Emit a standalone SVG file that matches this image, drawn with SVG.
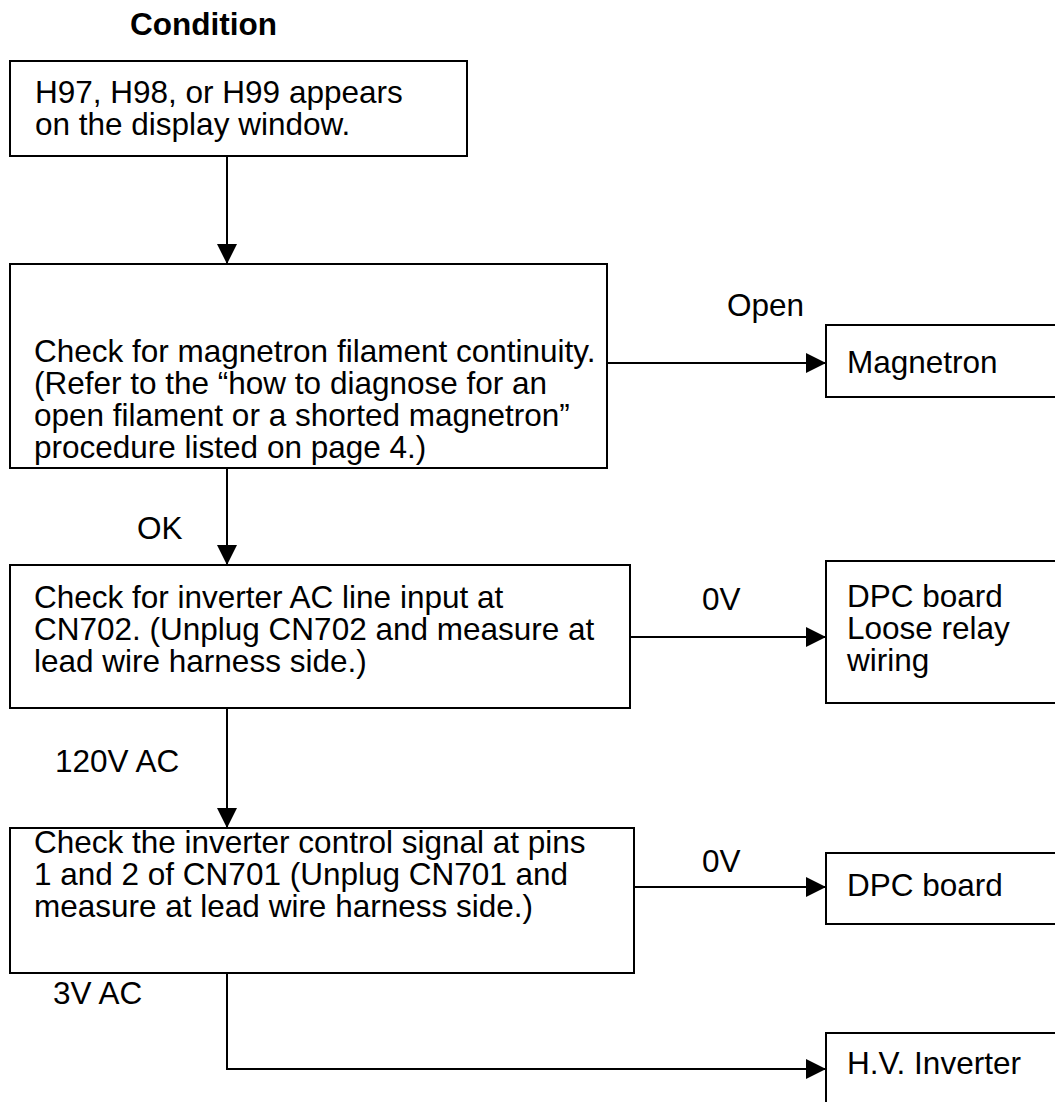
<svg xmlns="http://www.w3.org/2000/svg" width="1055" height="1102" viewBox="0 0 1055 1102">
<style>
text{font-family:"Liberation Sans",Arial,sans-serif;font-size:31.5px;fill:#000}
.t{font-weight:bold}
.box{fill:#fff;stroke:#000;stroke-width:2}
.ln{fill:none;stroke:#000;stroke-width:2}
</style>
<defs>
<marker id="ah" markerUnits="userSpaceOnUse" markerWidth="20" markerHeight="20" refX="20" refY="10" orient="auto">
<path d="M0,0 L20,10 L0,20 z" fill="#000"/>
</marker>
</defs>
<rect width="1055" height="1102" fill="#fff"/>
<text class="t" x="130" y="35">Condition</text>
<g id="connectors">
<line class="ln" x1="227" y1="156" x2="227" y2="264" marker-end="url(#ah)"/>
<line class="ln" x1="607" y1="363" x2="826" y2="363" marker-end="url(#ah)"/>
<line class="ln" x1="227" y1="468" x2="227" y2="565" marker-end="url(#ah)"/>
<line class="ln" x1="630" y1="637" x2="826" y2="637" marker-end="url(#ah)"/>
<line class="ln" x1="227" y1="708" x2="227" y2="828" marker-end="url(#ah)"/>
<line class="ln" x1="634" y1="887" x2="826" y2="887" marker-end="url(#ah)"/>
<polyline class="ln" points="227,973 227,1069 826,1069" marker-end="url(#ah)"/>
<text x="727" y="316">Open</text>
<text x="137" y="539">OK</text>
<text x="702" y="610">0V</text>
<text x="55" y="772">120V AC</text>
<text x="702" y="872">0V</text>
<text x="53" y="1004">3V AC</text>
</g>
<g id="n1">
<rect class="box" x="10" y="61" width="457" height="95"/>
<text x="35" y="103">H97, H98, or H99 appears</text>
<text x="35" y="135">on the display window.</text>
</g>
<g id="n2">
<rect class="box" x="10" y="264" width="597" height="204"/>
<text x="34" y="362">Check for magnetron filament continuity.</text>
<text x="34" y="394">(Refer to the “how to diagnose for an</text>
<text x="34" y="426">open filament or a shorted magnetron”</text>
<text x="34" y="458">procedure listed on page 4.)</text>
</g>
<g id="n3">
<rect class="box" x="826" y="325" width="240" height="72"/>
<text x="847" y="373">Magnetron</text>
</g>
<g id="n4">
<rect class="box" x="10" y="565" width="620" height="143"/>
<text x="34" y="608">Check for inverter AC line input at</text>
<text x="34" y="640">CN702. (Unplug CN702 and measure at</text>
<text x="34" y="672">lead wire harness side.)</text>
</g>
<g id="n5">
<rect class="box" x="826" y="561" width="240" height="142"/>
<text x="847" y="607">DPC board</text>
<text x="847" y="639">Loose relay</text>
<text x="847" y="671">wiring</text>
</g>
<g id="n6">
<rect class="box" x="10" y="828" width="624" height="145"/>
<text x="34" y="853">Check the inverter control signal at pins</text>
<text x="34" y="885">1 and 2 of CN701 (Unplug CN701 and</text>
<text x="34" y="917">measure at lead wire harness side.)</text>
</g>
<g id="n7">
<rect class="box" x="826" y="853" width="240" height="71"/>
<text x="847" y="896">DPC board</text>
</g>
<g id="n8">
<rect class="box" x="826" y="1033" width="240" height="90"/>
<text x="847" y="1074">H.V. Inverter</text>
</g>
</svg>
